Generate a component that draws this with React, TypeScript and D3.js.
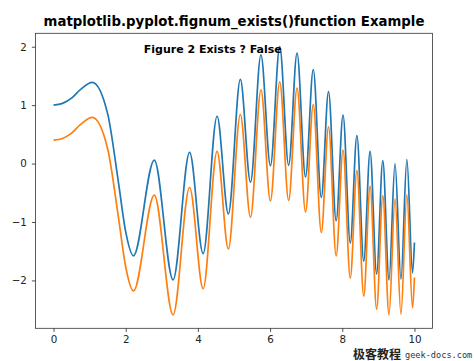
import React, { useEffect, useRef } from 'react';
import * as d3 from 'd3';

// sample points (peaks, troughs and a few points on the first bend)
const xValues = [
  0, 0.25, 0.5, 0.75, 1.072, 1.5, 1.8, 2.0, 2.214, 2.792, 3.312, 3.77, 4.145, 4.531,
  4.844, 5.176, 5.457, 5.747, 6.009, 6.267, 6.514, 6.747, 6.982, 7.196, 7.419, 7.619,
  7.831, 8.021, 8.222, 8.405, 8.595, 8.771, 8.952, 9.123, 9.295, 9.462, 9.626, 9.79,
  9.947, 10.0,
];

const blueValues = [
  1.0, 1.03, 1.12, 1.27, 1.39, 0.85, -0.33, -1.17, -1.58, 0.06, -1.99, 0.19, -1.54, 0.81,
  -0.86, 1.44, -0.32, 1.86, -0.04, 2.0, -0.03, 1.89, -0.23, 1.61, -0.58, 1.23,
  -0.98, 0.83, -1.36, 0.48, -1.67, 0.21, -1.89, 0.05, -1.99, 0.0, -1.98, 0.07,
  -1.87, -1.35,
];

const orangeValues = [
  0.4, 0.43, 0.52, 0.67, 0.79, 0.25, -0.93, -1.77, -2.18, -0.54, -2.59, -0.41, -2.14, 0.21,
  -1.46, 0.84, -0.92, 1.26, -0.64, 1.4, -0.63, 1.29, -0.83, 1.01, -1.18, 0.63,
  -1.58, 0.23, -1.96, -0.12, -2.27, -0.39, -2.49, -0.55, -2.59, -0.6, -2.58, -0.53,
  -2.47, -1.95,
];

const xTicks = [0, 2, 4, 6, 8, 10];
const yTicks = [-2, -1, 0, 1, 2];

const App = () => {
  const svgRef = useRef<SVGSVGElement>(null);

  useEffect(() => {
    if (!svgRef.current) return;
    const svg = d3.select(svgRef.current);
    svg.selectAll('*').remove();

    const width = 474;
    const height = 361;
    const left = 35.5, right = 432.5, top = 33.3, bottom = 328.3;
    const font = "'DejaVu Sans', sans-serif";

    svg.append('rect').attr('width', width).attr('height', height).attr('fill', '#fff');

    // matplotlib style 5% margins
    const xScale = d3.scaleLinear().domain([-0.5, 10.5]).range([left, right]);
    const allY = blueValues.concat(orangeValues);
    const yMin = d3.min(allY)!;
    const yMax = d3.max(allY)!;
    const pad = (yMax - yMin) * 0.05;
    const yScale = d3.scaleLinear().domain([yMin - pad, yMax + pad]).range([bottom, top]);

    const fmt = (d: number) => String(d).replace('-', '\u2212');

    const line = d3.line<number>()
      .x((_, i) => xScale(xValues[i]))
      .y(d => yScale(d))
      .curve(d3.curveMonotoneX);

    svg.append('path')
      .attr('d', line(blueValues))
      .attr('fill', 'none')
      .attr('stroke', '#1f77b4')
      .attr('stroke-width', 1.7);

    svg.append('path')
      .attr('d', line(orangeValues))
      .attr('fill', 'none')
      .attr('stroke', '#ff7f0e')
      .attr('stroke-width', 1.7);

    // axes
    svg.append('g')
      .attr('transform', `translate(0, ${bottom})`)
      .call(d3.axisBottom(xScale).tickValues(xTicks).tickFormat(d => fmt(+d)).tickSize(3.6).tickPadding(3.5))
      .call(g => g.select('.domain').remove())
      .call(g => g.selectAll('.tick line').attr('stroke', '#222').attr('stroke-width', 0.8))
      .call(g => g.selectAll('.tick text').attr('font-family', font).attr('font-size', 10.3).attr('fill', '#222'));

    svg.append('g')
      .attr('transform', `translate(${left}, 0)`)
      .call(d3.axisLeft(yScale).tickValues(yTicks).tickFormat(d => fmt(+d)).tickSize(3.6).tickPadding(5))
      .call(g => g.select('.domain').remove())
      .call(g => g.selectAll('.tick line').attr('stroke', '#222').attr('stroke-width', 0.8))
      .call(g => g.selectAll('.tick text').attr('font-family', font).attr('font-size', 10.3).attr('fill', '#222'));

    svg.append('rect')
      .attr('x', left)
      .attr('y', top)
      .attr('width', right - left)
      .attr('height', bottom - top)
      .attr('fill', 'none')
      .attr('stroke', '#333')
      .attr('stroke-width', 0.8);

    // title
    svg.append('text')
      .attr('x', (left + right) / 2)
      .attr('y', 25.5)
      .attr('text-anchor', 'middle')
      .attr('font-family', font)
      .attr('font-weight', 'bold')
      .attr('font-size', 13.3)
      .attr('fill', '#000')
      .text('matplotlib.pyplot.fignum_exists()function Example');

    // annotation in data coordinates
    svg.append('text')
      .attr('x', xScale(2.5))
      .attr('y', yScale(1.9))
      .attr('font-family', font)
      .attr('font-weight', 'bold')
      .attr('font-size', 11)
      .attr('fill', '#000')
      .text('Figure 2 Exists ? False');

    // watermark
    svg.append('text')
      .attr('x', 353)
      .attr('y', 359)
      .attr('font-family', "'Noto Sans CJK SC', sans-serif")
      .attr('font-weight', 'bold')
      .attr('font-size', 12)
      .attr('fill', '#222')
      .text('极客教程');

    svg.append('text')
      .attr('x', 405)
      .attr('y', 358)
      .attr('font-family', "'DejaVu Sans Mono', monospace")
      .attr('font-size', 8.6)
      .attr('fill', '#333')
      .text('geek-docs.com');
  }, []);

  return (
    <div style={{ position: 'fixed', left: 0, top: 0 }}>
      <svg ref={svgRef} width={474} height={361} style={{ display: 'block' }}></svg>
    </div>
  );
};

export default App;
